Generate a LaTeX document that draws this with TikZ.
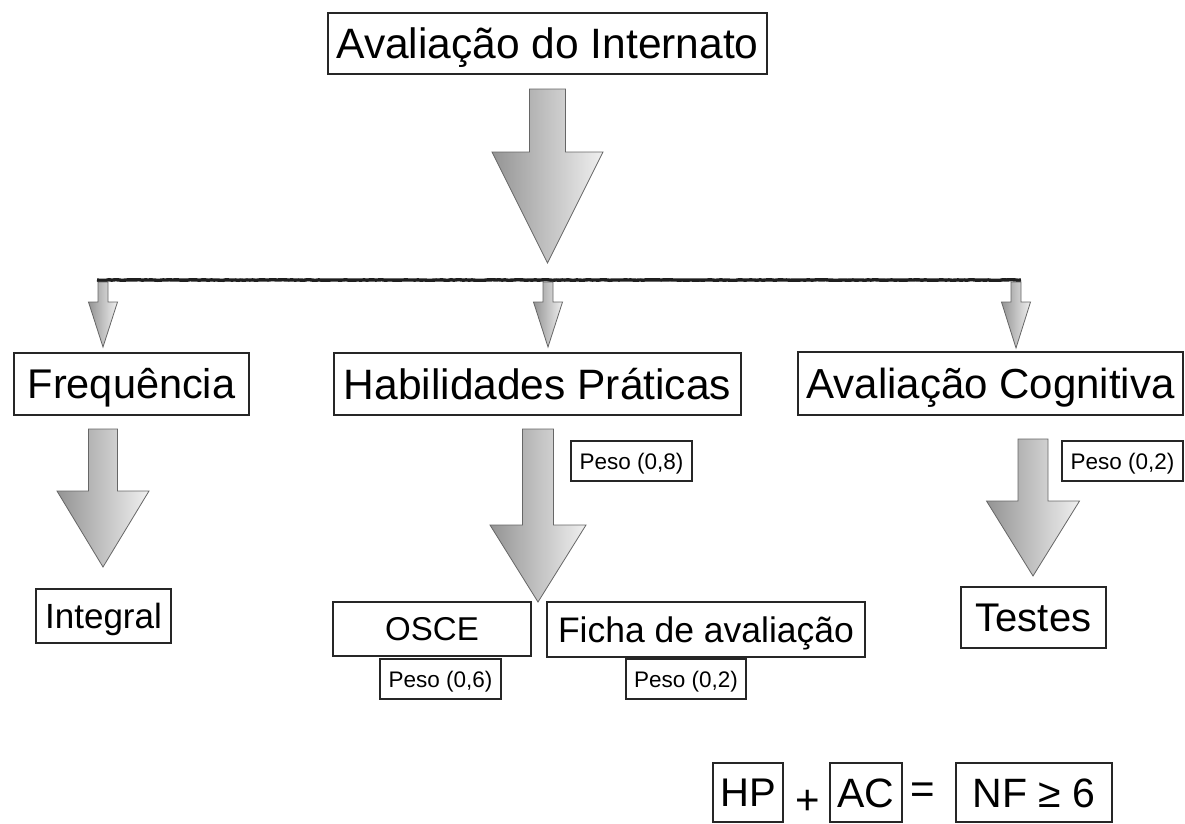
\documentclass[tikz,border=0pt]{standalone}
\usepackage{fontspec}
\setmainfont{Liberation Sans}
\usetikzlibrary{decorations.pathmorphing}
\newcommand\captxt[2]{{\fontsize{#1}{#1}\selectfont\raisebox{0pt}[0.716em][0pt]{#2}}}
\tikzset{
  box/.style={draw=black!85, line width=1.3pt, fill=white, inner sep=0pt, text=black},
  barrowstyle/.style={draw=black!60, line width=0.8pt, left color=black!42, right color=black!6, line join=miter},
  bus/.style={line width=3.4pt, draw=black!88, decorate, decoration={random steps, segment length=3pt, amplitude=0.3pt}},
}
% cx, top, headstart, tip, shaft half width, head half width
\newcommand\barrow[6]{%
  \path[barrowstyle] (#1-#5,#2) -- (#1+#5,#2) -- (#1+#5,#3) -- (#1+#6,#3) -- (#1,#4) -- (#1-#6,#3) -- (#1-#5,#3) -- cycle;}
\begin{document}
\begin{tikzpicture}[x=1pt,y=-1pt]
\useasboundingbox (0,0) rectangle (1185,823);
\fill[white] (0,0) rectangle (1185,823);

% boxes
\node[box, minimum width=439pt, minimum height=61pt] (title) at (547.5,43.5) {\captxt{42.5}{Avaliação do Internato}};
\node[box, minimum width=235pt, minimum height=62pt] (freq) at (131.5,384) {\captxt{41.5}{Frequência}};
\node[box, minimum width=407pt, minimum height=62pt] (hab) at (537.5,384) {\captxt{42.5}{Habilidades Práticas}};
\node[box, minimum width=385pt, minimum height=63pt] (cog) at (990.5,383.5) {\captxt{42}{Avaliação Cognitiva}};
\node[box, minimum width=135pt, minimum height=54pt] (integral) at (103.5,616) {\captxt{35}{Integral}};
\node[box, minimum width=121pt, minimum height=40pt] (p08) at (631.5,461) {\captxt{22.5}{Peso (0,8)}};
\node[box, minimum width=198pt, minimum height=54pt] (osce) at (432,629) {\captxt{33}{OSCE}};
\node[box, minimum width=318pt, minimum height=55pt] (ficha) at (706,629.5) {\captxt{35.5}{Ficha de avaliação}};
\node[box, minimum width=121pt, minimum height=40pt] (p06) at (440.5,679) {\captxt{22.5}{Peso (0,6)}};
\node[box, minimum width=120pt, minimum height=40pt] (p02a) at (686,679) {\captxt{22.5}{Peso (0,2)}};
\node[box, minimum width=121pt, minimum height=40pt] (p02b) at (1122.5,461) {\captxt{22.5}{Peso (0,2)}};
\node[box, minimum width=145pt, minimum height=61pt] (testes) at (1033.5,617.5) {\captxt{40}{Testes}};

% formula
\node[box, minimum width=70pt, minimum height=59pt] (hp) at (748,792.5) {\captxt{40}{HP}};
\node[inner sep=0pt, font=\fontsize{42}{42}\selectfont] (plus) at (807.5,802) {+};
\node[box, minimum width=72pt, minimum height=59pt] (acf) at (866,792.5) {\captxt{41}{AC}};
\node[inner sep=0pt, font=\fontsize{42}{42}\selectfont] (eq) at (922.5,793) {=};
\node[box, minimum width=156pt, minimum height=59pt] (nf) at (1034,792.5) {\captxt{41}{NF ≥ 6}};

% bus line
\coordinate (busL) at (97,280);
\coordinate (busR) at (1021,280);
\draw[bus] (busL) -- (busR);

% block arrows
\barrow{547.5}{89}{152}{263}{18}{55.5}
\barrow{103}{282}{302}{347}{5}{14.5}
\barrow{548}{282}{302}{347}{5}{14.5}
\barrow{1016}{282}{302}{348}{5}{14.5}
\barrow{103}{429}{491}{567}{14.5}{46}
\barrow{538}{429}{525}{602}{15.5}{48}
\barrow{1033}{439}{501}{576}{15}{46.5}
\end{tikzpicture}
\end{document}
